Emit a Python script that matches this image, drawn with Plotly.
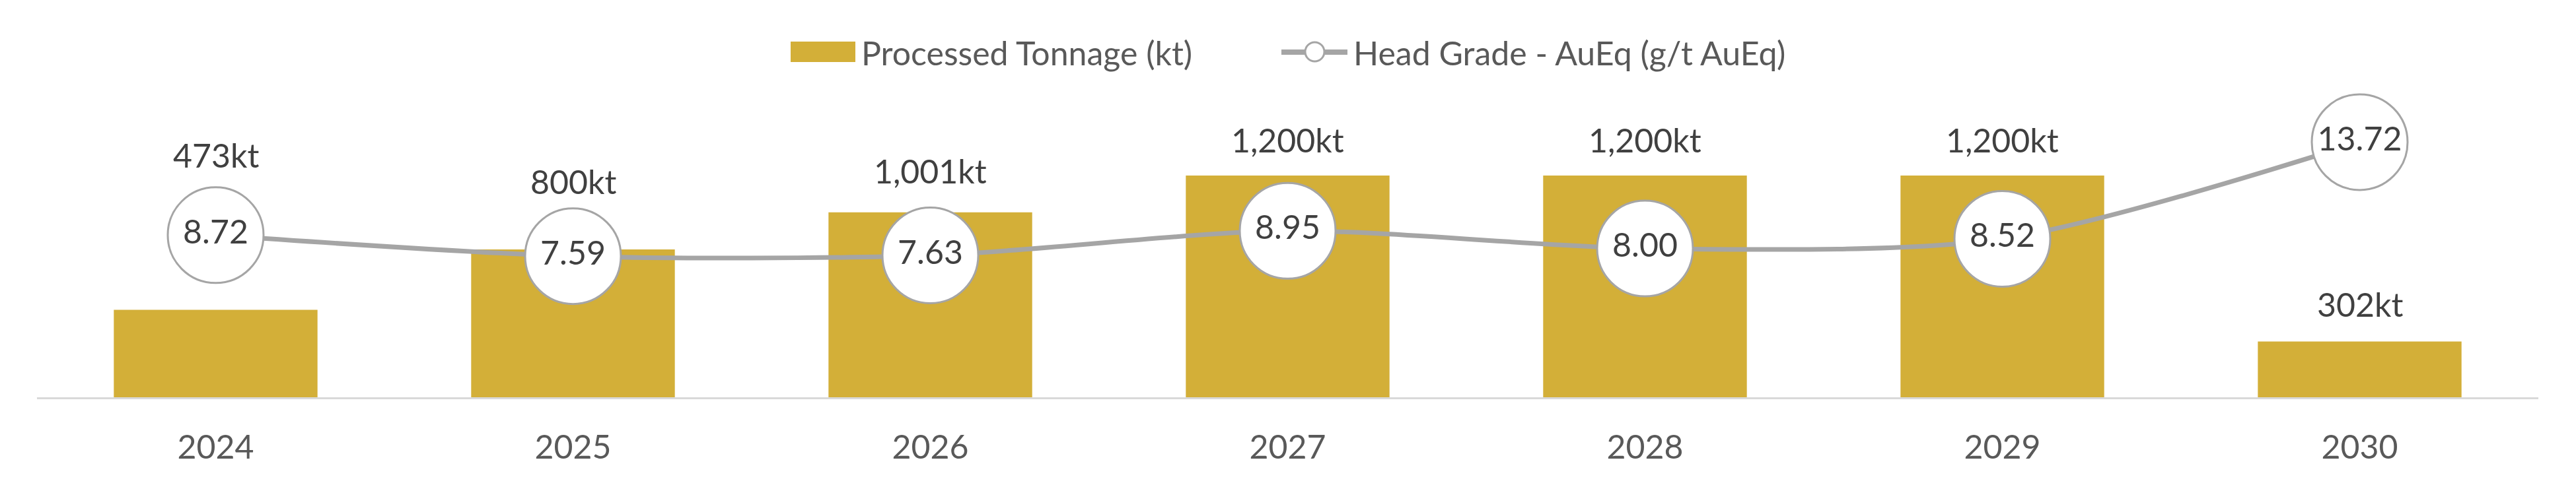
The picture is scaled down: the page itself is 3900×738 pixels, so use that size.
import plotly.graph_objects as go

# DATA
years = ["2024", "2025", "2026", "2027", "2028", "2029", "2030"]
tonnage_kt = [473, 800, 1001, 1200, 1200, 1200, 302]
head_grade = [8.72, 7.59, 7.63, 8.95, 8.00, 8.52, 13.72]

# label offsets above bar tops (px) - some moved to clear the circles
label_shift = [235, 103, 63, 54, 54, 54, 56]

W, H = 3900, 738
M = dict(l=56, r=57, t=154, b=136)

GOLD = "#D3AF38"
GREY = "#A5A5A5"
FONT = "Lato"
FS = 50


def px_x(px):
    return (px - M["l"]) / (W - M["l"] - M["r"])


def px_y(py):
    return (H - M["b"] - py) / (H - M["t"] - M["b"])


fig = go.Figure()

fig.add_trace(go.Bar(
    x=years, y=tonnage_kt, name="Processed Tonnage (kt)",
    marker=dict(color=GOLD, line=dict(width=0)),
    showlegend=False, hoverinfo="skip",
))

fig.add_trace(go.Scatter(
    x=years, y=head_grade, yaxis="y2", name="Head Grade - AuEq (g/t AuEq)",
    mode="lines+markers+text",
    line=dict(color=GREY, width=7, shape="spline", smoothing=0.8),
    marker=dict(size=145, color="white", line=dict(color=GREY, width=3)),
    text=[f"{g:.2f}" for g in head_grade],
    textposition="middle center",
    textfont=dict(family=FONT, size=FS, color="#404040"),
    cliponaxis=False, showlegend=False, hoverinfo="skip",
))

# bar data labels (x given as category index)
for i, (v, s) in enumerate(zip(tonnage_kt, label_shift)):
    fig.add_annotation(
        x=i, y=v, xref="x", yref="y", text=f"{v:,}kt", showarrow=False,
        yshift=s, yanchor="middle",
        font=dict(family=FONT, size=FS, color="#404040"),
    )

# hand-built legend (wide swatch like the original)
fig.add_shape(type="rect", xref="paper", yref="paper",
              x0=px_x(1197), x1=px_x(1295), y0=px_y(94), y1=px_y(63),
              fillcolor=GOLD, line=dict(width=0))
fig.add_annotation(x=px_x(1302), y=px_y(80), xref="paper", yref="paper",
                   xanchor="left", yanchor="middle", showarrow=False,
                   text="Processed Tonnage (kt)",
                   font=dict(family=FONT, size=FS, color="#595959"))
fig.add_shape(type="line", xref="paper", yref="paper",
              x0=px_x(1940), x1=px_x(2040), y0=px_y(79), y1=px_y(79),
              line=dict(color=GREY, width=8))
fig.add_shape(type="circle", xref="paper", yref="paper",
              x0=px_x(1976), x1=px_x(2005), y0=px_y(93), y1=px_y(64),
              fillcolor="white", line=dict(color=GREY, width=3))
fig.add_annotation(x=px_x(2047), y=px_y(80), xref="paper", yref="paper",
                   xanchor="left", yanchor="middle", showarrow=False,
                   text="Head Grade - AuEq (g/t AuEq)",
                   font=dict(family=FONT, size=FS, color="#595959"))

fig.update_layout(
    width=W, height=H, margin=M,
    paper_bgcolor="white", plot_bgcolor="white",
    font=dict(family=FONT, size=FS, color="#595959"),
    bargap=0.43, showlegend=False,
    xaxis=dict(type="category", range=[-0.5, len(years) - 0.5],
               showline=True, linecolor="#D9D9D9", linewidth=3,
               showgrid=False, ticks="", ticklabelstandoff=30,
               tickfont=dict(family=FONT, size=FS, color="#595959")),
    yaxis=dict(range=[0, 1600], visible=False, showgrid=False, zeroline=False),
    yaxis2=dict(range=[0, 15.9], overlaying="y", side="right", visible=False,
                showgrid=False, zeroline=False),
)

fig.write_html("out.html", config={"displayModeBar": False},
               post_script="document.body.style.margin='0';document.body.style.overflow='hidden';")
